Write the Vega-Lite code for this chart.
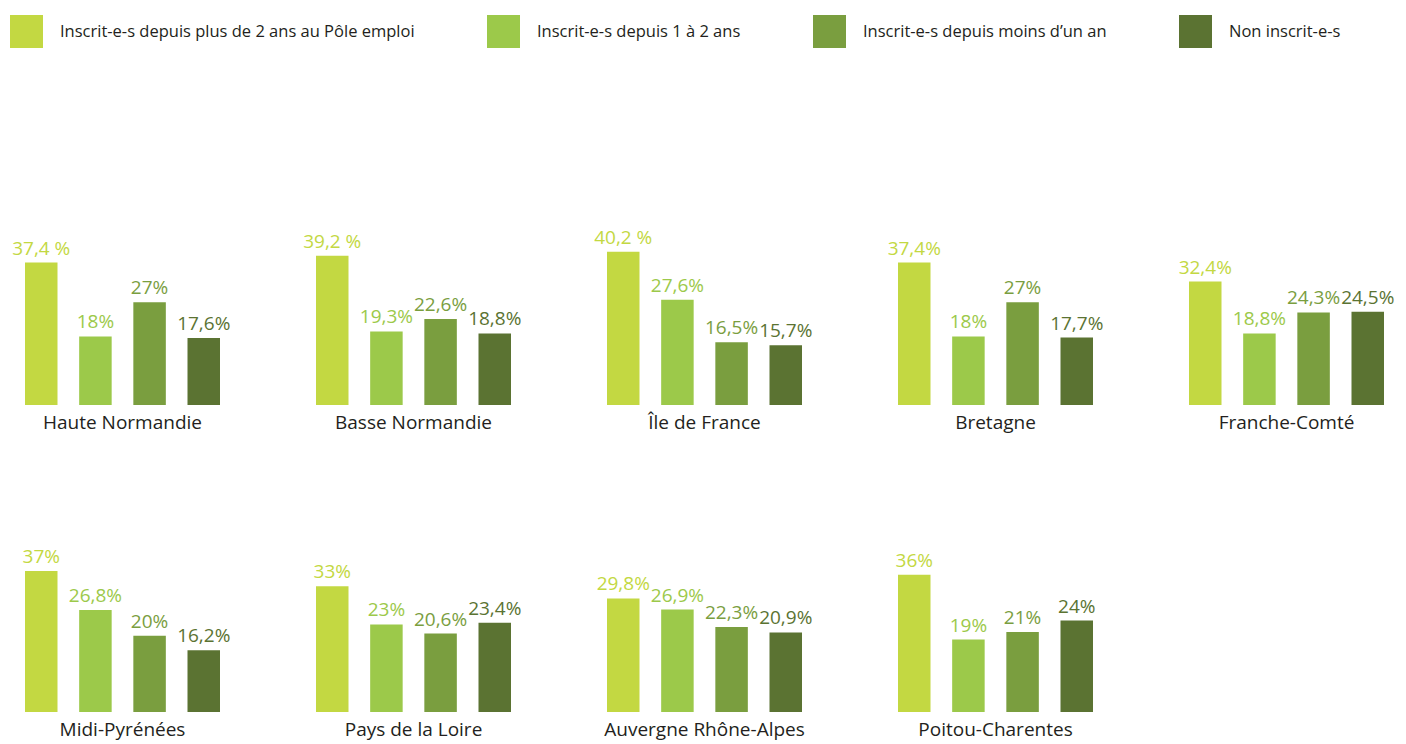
{
  "$schema": "https://vega.github.io/schema/vega-lite/v6.json",
  "padding": {"left": 10, "top": 15, "right": 5, "bottom": 5},
  "background": "white",
  "data": {"values": [
    {"region": "Haute Normandie", "cat": "Inscrit-e-s depuis plus de 2 ans au Pôle emploi", "value": 37.4, "label": "37,4 %"},
    {"region": "Haute Normandie", "cat": "Inscrit-e-s depuis 1 à 2 ans", "value": 18, "label": "18%"},
    {"region": "Haute Normandie", "cat": "Inscrit-e-s depuis moins d’un an", "value": 27, "label": "27%"},
    {"region": "Haute Normandie", "cat": "Non inscrit-e-s", "value": 17.6, "label": "17,6%"},
    {"region": "Basse Normandie", "cat": "Inscrit-e-s depuis plus de 2 ans au Pôle emploi", "value": 39.2, "label": "39,2 %"},
    {"region": "Basse Normandie", "cat": "Inscrit-e-s depuis 1 à 2 ans", "value": 19.3, "label": "19,3%"},
    {"region": "Basse Normandie", "cat": "Inscrit-e-s depuis moins d’un an", "value": 22.6, "label": "22,6%"},
    {"region": "Basse Normandie", "cat": "Non inscrit-e-s", "value": 18.8, "label": "18,8%"},
    {"region": "Île de France", "cat": "Inscrit-e-s depuis plus de 2 ans au Pôle emploi", "value": 40.2, "label": "40,2 %"},
    {"region": "Île de France", "cat": "Inscrit-e-s depuis 1 à 2 ans", "value": 27.6, "label": "27,6%"},
    {"region": "Île de France", "cat": "Inscrit-e-s depuis moins d’un an", "value": 16.5, "label": "16,5%"},
    {"region": "Île de France", "cat": "Non inscrit-e-s", "value": 15.7, "label": "15,7%"},
    {"region": "Bretagne", "cat": "Inscrit-e-s depuis plus de 2 ans au Pôle emploi", "value": 37.4, "label": "37,4%"},
    {"region": "Bretagne", "cat": "Inscrit-e-s depuis 1 à 2 ans", "value": 18, "label": "18%"},
    {"region": "Bretagne", "cat": "Inscrit-e-s depuis moins d’un an", "value": 27, "label": "27%"},
    {"region": "Bretagne", "cat": "Non inscrit-e-s", "value": 17.7, "label": "17,7%"},
    {"region": "Franche-Comté", "cat": "Inscrit-e-s depuis plus de 2 ans au Pôle emploi", "value": 32.4, "label": "32,4%"},
    {"region": "Franche-Comté", "cat": "Inscrit-e-s depuis 1 à 2 ans", "value": 18.8, "label": "18,8%"},
    {"region": "Franche-Comté", "cat": "Inscrit-e-s depuis moins d’un an", "value": 24.3, "label": "24,3%"},
    {"region": "Franche-Comté", "cat": "Non inscrit-e-s", "value": 24.5, "label": "24,5%"},
    {"region": "Midi-Pyrénées", "cat": "Inscrit-e-s depuis plus de 2 ans au Pôle emploi", "value": 37, "label": "37%"},
    {"region": "Midi-Pyrénées", "cat": "Inscrit-e-s depuis 1 à 2 ans", "value": 26.8, "label": "26,8%"},
    {"region": "Midi-Pyrénées", "cat": "Inscrit-e-s depuis moins d’un an", "value": 20, "label": "20%"},
    {"region": "Midi-Pyrénées", "cat": "Non inscrit-e-s", "value": 16.2, "label": "16,2%"},
    {"region": "Pays de la Loire", "cat": "Inscrit-e-s depuis plus de 2 ans au Pôle emploi", "value": 33, "label": "33%"},
    {"region": "Pays de la Loire", "cat": "Inscrit-e-s depuis 1 à 2 ans", "value": 23, "label": "23%"},
    {"region": "Pays de la Loire", "cat": "Inscrit-e-s depuis moins d’un an", "value": 20.6, "label": "20,6%"},
    {"region": "Pays de la Loire", "cat": "Non inscrit-e-s", "value": 23.4, "label": "23,4%"},
    {"region": "Auvergne Rhône-Alpes", "cat": "Inscrit-e-s depuis plus de 2 ans au Pôle emploi", "value": 29.8, "label": "29,8%"},
    {"region": "Auvergne Rhône-Alpes", "cat": "Inscrit-e-s depuis 1 à 2 ans", "value": 26.9, "label": "26,9%"},
    {"region": "Auvergne Rhône-Alpes", "cat": "Inscrit-e-s depuis moins d’un an", "value": 22.3, "label": "22,3%"},
    {"region": "Auvergne Rhône-Alpes", "cat": "Non inscrit-e-s", "value": 20.9, "label": "20,9%"},
    {"region": "Poitou-Charentes", "cat": "Inscrit-e-s depuis plus de 2 ans au Pôle emploi", "value": 36, "label": "36%"},
    {"region": "Poitou-Charentes", "cat": "Inscrit-e-s depuis 1 à 2 ans", "value": 19, "label": "19%"},
    {"region": "Poitou-Charentes", "cat": "Inscrit-e-s depuis moins d’un an", "value": 21, "label": "21%"},
    {"region": "Poitou-Charentes", "cat": "Non inscrit-e-s", "value": 24, "label": "24%"}
  ]},
  "facet": {
    "field": "region", "type": "nominal",
    "sort": ["Haute Normandie", "Basse Normandie", "Île de France", "Bretagne", "Franche-Comté", "Midi-Pyrénées", "Pays de la Loire", "Auvergne Rhône-Alpes", "Poitou-Charentes"],
    "header": {"title": null, "labelOrient": "bottom", "labelFontSize": 19, "labelFont": "Open Sans", "labelColor": "#231f20", "labelPadding": 9}
  },
  "columns": 5,
  "spacing": {"row": 115, "column": 72},
  "spec": {
    "width": 195,
    "height": 160,
    "encoding": {
      "x": {"field": "cat", "type": "nominal", "sort": null, "axis": null, "scale": {"paddingInner": 0.4, "paddingOuter": 0}},
      "y": {"field": "value", "type": "quantitative", "axis": null, "scale": {"domain": [0, 42]}},
      "color": {
        "field": "cat", "type": "nominal",
        "scale": {"domain": ["Inscrit-e-s depuis plus de 2 ans au Pôle emploi", "Inscrit-e-s depuis 1 à 2 ans", "Inscrit-e-s depuis moins d’un an", "Non inscrit-e-s"], "range": ["#c3d842", "#9cc94a", "#7a9e3f", "#5b7332"]},
        "legend": {"orient": "none", "legendX": -15, "legendY": -230, "direction": "horizontal", "title": null, "symbolType": "square", "symbolSize": 1089, "symbolStrokeWidth": 0, "symbolOpacity": 1, "labelFontSize": 16.5, "labelFont": "Open Sans", "labelColor": "#231f20", "labelOffset": 17, "columnPadding": 72, "labelLimit": 500}
      }
    },
    "layer": [
      {"mark": {"type": "bar"}},
      {"mark": {"type": "text", "baseline": "bottom", "dy": -4, "fontSize": 19, "font": "Open Sans"}, "encoding": {"text": {"field": "label"}}}
    ]
  },
  "config": {"view": {"stroke": null}}
}
